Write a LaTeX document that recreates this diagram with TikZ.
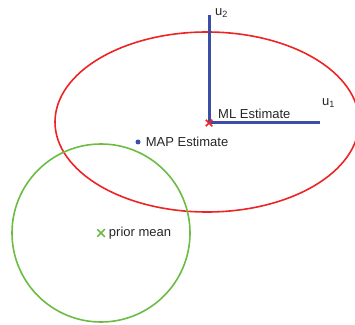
\documentclass[tikz,border=0pt]{standalone}
\usepackage{fontspec}
\setmainfont{Liberation Sans}
\usepackage{xcolor}
\usetikzlibrary{shapes.misc, positioning}
\definecolor{likered}{HTML}{EE2424}
\definecolor{priorgreen}{HTML}{6CBB45}
\definecolor{axisblue}{HTML}{3B4DA5}

\begin{document}
\begin{tikzpicture}[
    x=1pt, y=1pt,
    every node/.style={font=\fontsize{13}{15}\selectfont, text=black!85},
    contour/.style={line width=1.6pt},
    axisline/.style={draw=axisblue, line width=3pt},
    crossmark/.style={cross out, draw, minimum size=6pt, inner sep=0pt,
                      line width=1.5pt},
    tag/.style={anchor=west, inner sep=1pt}
]
\useasboundingbox (0,0) rectangle (355,324);

% likelihood contour and its principal axes
\coordinate (ml) at (209,201);
\draw[contour, likered] (207,202) ellipse [x radius=152, y radius=90];
\coordinate (u2end) at (209,309);
\coordinate (u1end) at (320,201);
\draw[axisline] (u2end) -- (ml) -- (u1end);
\node[crossmark, draw=likered, minimum size=5pt] (mlmark) at (ml) {};
\node[tag] (u2lab) at (214,311) {u\textsubscript{2}};
\node[tag] (u1lab) at (321,221) {u\textsubscript{1}};
\node[tag] (mllab) at (217,210) {ML Estimate};

% posterior mode
\node[circle, fill=axisblue, inner sep=0pt, minimum size=5pt] (map) at (138,182) {};
\node[tag, right=4pt of map] (maplab) {MAP Estimate};

% prior contour
\coordinate (prior) at (101,91);
\draw[contour, priorgreen] (prior) circle [radius=89];
\node[crossmark, draw=priorgreen] (priormark) at (prior) {};
\node[tag, right=3pt of priormark] (priorlab) {prior mean};

\end{tikzpicture}
\end{document}
